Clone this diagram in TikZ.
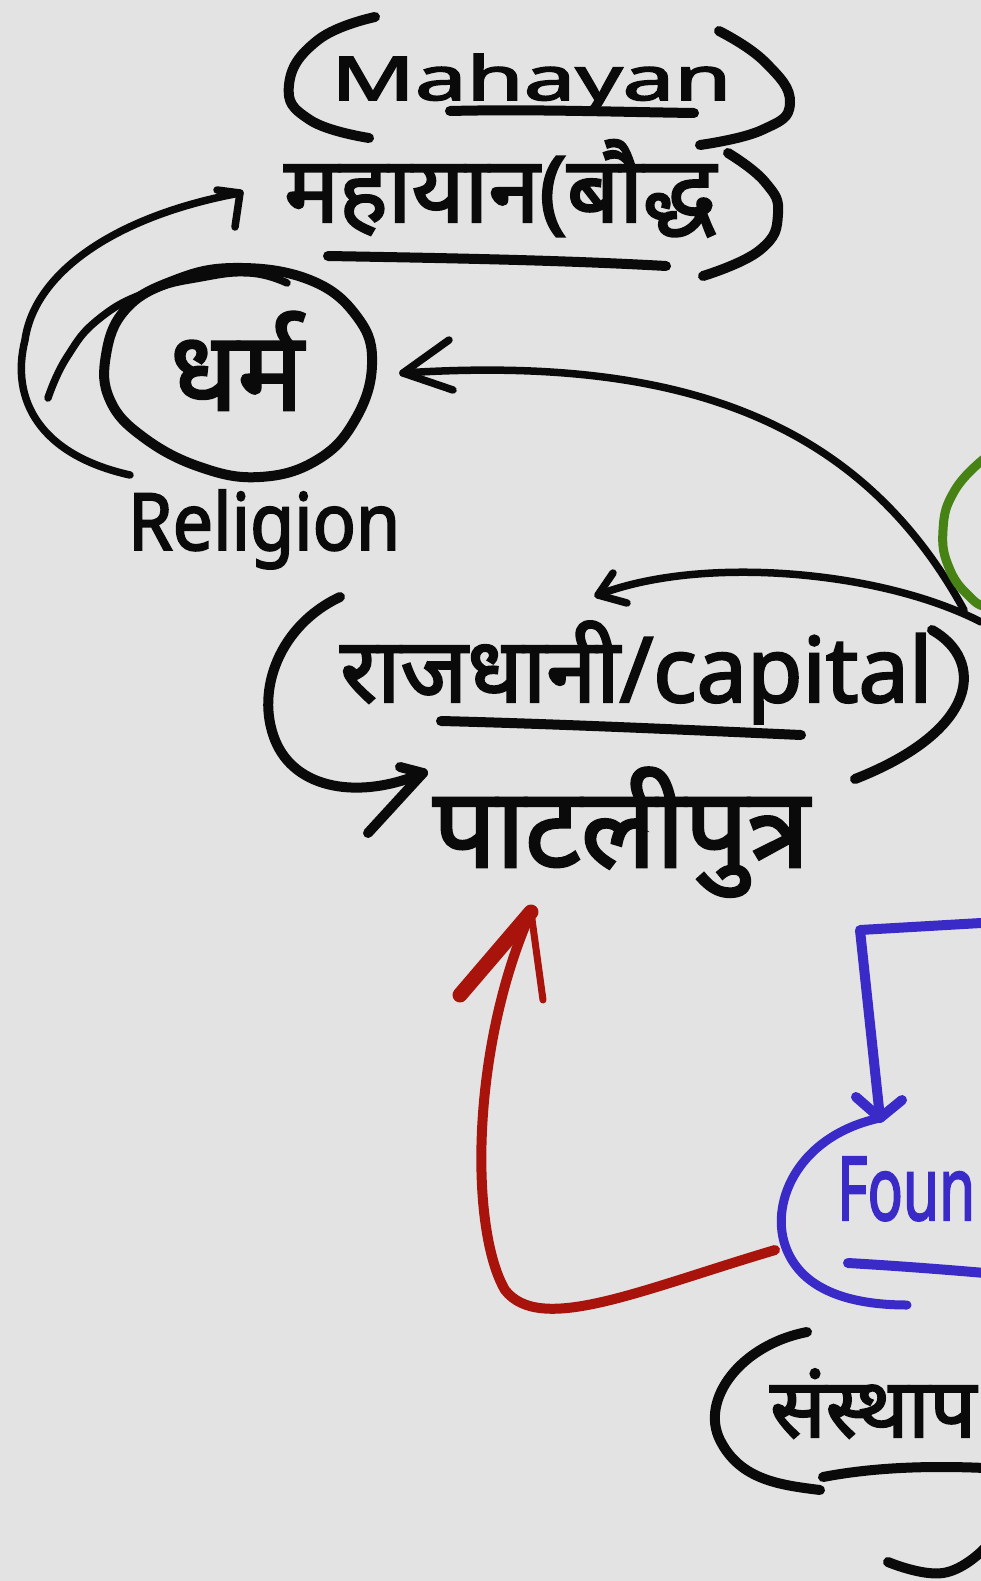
\documentclass[tikz,border=0pt]{standalone}
\usepackage{fontspec}
\setmainfont{Noto Sans}[FakeBold=2.5]
\newfontfamily\deva{Noto Sans}[Script=Devanagari,FakeBold=2.5]
\definecolor{bg}{HTML}{E3E3E3}
\definecolor{ink}{HTML}{0A0A0A}
\definecolor{redink}{HTML}{A8140C}
\definecolor{blueink}{HTML}{3A2BC8}
\definecolor{greenink}{HTML}{468214}
\begin{document}
\begin{tikzpicture}[x=1pt,y=-1pt,
  pen/.style={line width=10pt,line cap=round,line join=round,draw=ink},
  thin/.style={pen,line width=7.5pt},
  rpen/.style={pen,draw=redink,line width=10pt},
  upen/.style={pen,draw=blueink,line width=10pt},
  gpen/.style={pen,draw=greenink,line width=9pt},
  lbl/.style={inner sep=0pt,anchor=base west,text=ink},
  hand/.style={smooth,tension=0.8}]
\fill[bg] (0,0) rectangle (981,1581);
\useasboundingbox (0,0) rectangle (981,1581);
\clip (0,0) rectangle (981,1581);

% texts
\node[lbl] (mahayan) at (331,100) {\resizebox{400pt}{46pt}{Mahayan}};
\node[lbl] (mahayana) at (284,222) {\resizebox{432pt}{!}{\deva महायान(बौद्ध}};
\node[lbl] (dharma) at (170,410) {\resizebox{133pt}{!}{\deva धर्म}};
\node[lbl] (religion) at (128,550) {\resizebox{272pt}{60pt}{Religion}};
\node[lbl] (capital) at (340,702) {\resizebox{592pt}{!}{\deva राजधानी/capital}};
\node[lbl] (patali) at (433,867) {\resizebox{376pt}{!}{\deva पाटलीपुत्र}};
\node[lbl,text=blueink] (founder) at (837,1220) {\resizebox{138pt}{63pt}{Foun}};
\node[lbl] (sansthapak) at (770,1437) {\resizebox{206pt}{!}{\deva संस्थाप}};

% endpoints
\coordinate (relS) at (130,475);
\coordinate (mahT) at (240,193);
\coordinate (rightA) at (964,610);
\coordinate (dharT) at (403,373);
\coordinate (rightB) at (981,622);
\coordinate (capT) at (598,595);
\coordinate (capL) at (340,597);
\coordinate (patT) at (423,773);
\coordinate (redS) at (775,1250);
\coordinate (redT) at (531,912);
\coordinate (bluS) at (981,923);
\coordinate (bluT) at (880,1118);

% Mahayan brackets and underline
\draw[pen] plot[hand] coordinates {(375,17) (318,40) (289,85) (310,120) (369,138)};
\draw[pen] (450,111) .. controls (530,109) and (620,112) .. (694,113);
\draw[pen] plot[hand] coordinates {(719,31) (765,62) (790,103) (762,130) (700,145)};
\draw[pen] plot[hand] coordinates {(728,153) (765,182) (778,214) (760,250) (703,276)};
\draw[pen] (328,256) .. controls (440,258) and (560,260) .. (666,266);

% arrow religion -> mahayana
\draw[thin] (relS) .. controls (40,455) and (10,400) .. (25,340) .. controls (35,270) and (120,215) .. (mahT);
\draw[thin] (217,190) -- (mahT) -- (235,227);
% inner stroke
\draw[thin] plot[hand] coordinates {(48,398) (67,357) (100,318) (150,291) (200,278) (250,273) (287,283)};
% circle around dharma
\draw[pen] plot[smooth cycle,tension=0.7] coordinates {(233,268) (310,280) (358,318) (372,365) (355,420) (317,460) (260,477) (200,467) (143,437) (110,400) (106,355) (125,310) (170,282)};

% arrow right -> dharma
\draw[thin] (rightA) .. controls (860,420) and (680,355) .. (dharT);
\draw[thin] (449,340) -- (dharT) -- (453,390);

% green arc
\draw[gpen] plot[hand] coordinates {(985,458) (955,490) (943,530) (950,570) (972,599) (985,606)};

% arrow right -> capital
\draw[thin] (rightB) .. controls (880,570) and (700,555) .. (capT);
\draw[thin] (613,573) -- (capT) -- (627,603);

% capital bracket + arrow to patali
\draw[pen] (capL) .. controls (280,625) and (255,690) .. (275,740) .. controls (295,790) and (360,800) .. (patT);
\draw[pen] (400,767) -- (patT) -- (368,833);
\draw[pen] (441,721) .. controls (560,724) and (690,730) .. (801,735);
\draw[pen] (932,630) .. controls (985,660) and (980,730) .. (855,779);

% red arrow founder -> patali
\draw[rpen] (redS) .. controls (640,1290) and (540,1335) .. (505,1290) .. controls (470,1230) and (470,1050) .. (redT);
\draw[rpen,line width=15pt] (460,995) -- (redT);
\draw[rpen,line width=7pt] (redT) -- (543,1000);

% blue bracket arrow
\draw[upen] (bluS) -- (860,930) -- (bluT);
\draw[upen] (856,1097) -- (bluT) -- (902,1100);
\draw[upen,line width=9pt] (bluT) .. controls (800,1135) and (770,1200) .. (785,1245) .. controls (800,1290) and (850,1305) .. (907,1305);
\draw[upen] (848,1263) .. controls (900,1266) and (950,1270) .. (985,1273);

% sansthapak bracket
\draw[pen] (807,1332) .. controls (740,1345) and (700,1400) .. (720,1440) .. controls (740,1480) and (780,1485) .. (820,1490);
\draw[pen] (823,1477) .. controls (880,1466) and (940,1466) .. (985,1468);
\draw[pen] plot[hand] coordinates {(888,1562) (943,1573) (985,1548)};
\end{tikzpicture}
\end{document}
